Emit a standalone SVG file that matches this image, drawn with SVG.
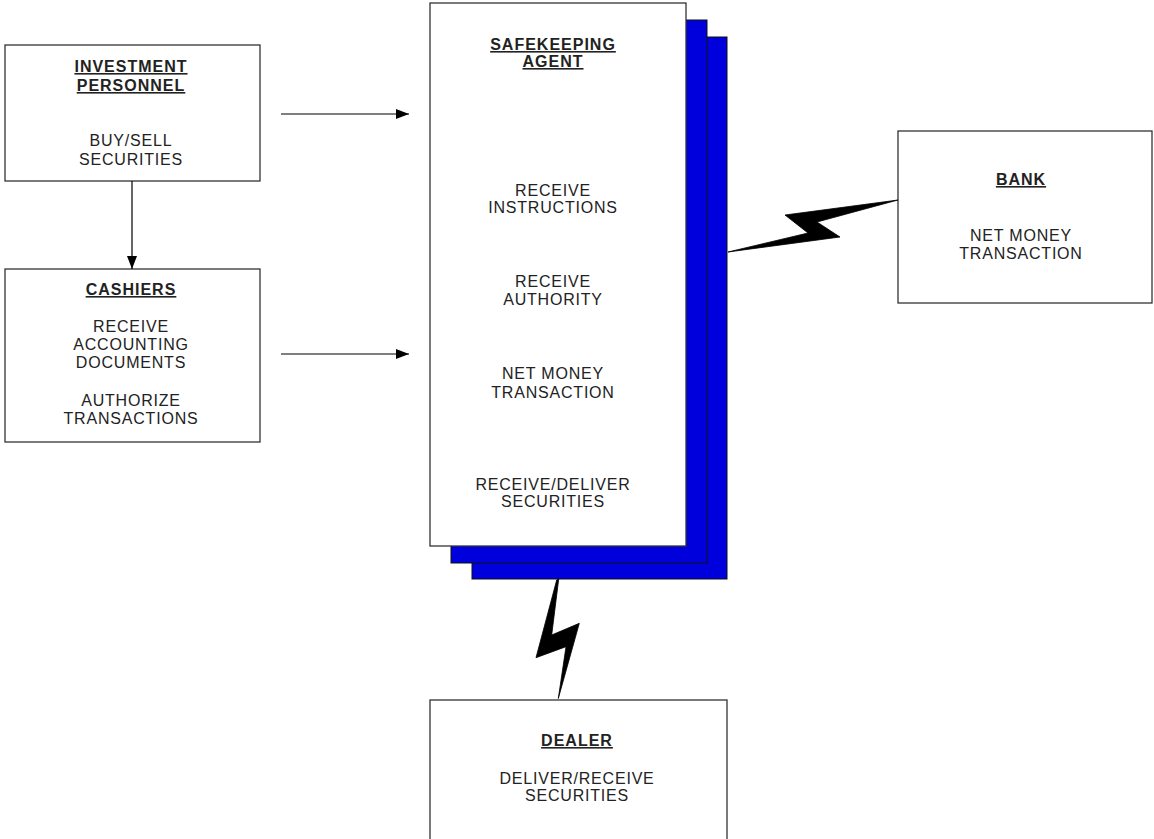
<svg xmlns="http://www.w3.org/2000/svg" width="1154" height="839" viewBox="0 0 1154 839">
<defs>
<style>
.box{fill:#fff;stroke:#333;stroke-width:1.3}
.shadow{fill:#0000dd;stroke:#111;stroke-width:1}
text{font-family:"Liberation Sans",Arial,sans-serif;font-size:16px;fill:#222;text-anchor:middle;letter-spacing:0.8px}
.h{font-weight:bold;text-decoration:underline;letter-spacing:1px}
.conn{stroke:#000;stroke-width:1.2;fill:none}
.bolt{fill:#000;stroke:#000;stroke-width:0.8}
</style>
<marker id="arr" markerWidth="14" markerHeight="10" refX="13" refY="5" orient="auto" markerUnits="userSpaceOnUse">
<path d="M0,0 L13,5 L0,10 Z" fill="#000"/>
</marker>
</defs>
<rect width="1154" height="839" fill="#fff"/>

<g id="investment-personnel">
<rect class="box" x="5" y="45" width="255" height="136"/>
<text class="h" x="131" y="72">INVESTMENT</text>
<text class="h" x="131" y="91">PERSONNEL</text>
<text x="131" y="146">BUY/SELL</text>
<text x="131" y="165">SECURITIES</text>
</g>

<g id="cashiers">
<rect class="box" x="5" y="269" width="255" height="173"/>
<text class="h" x="131" y="295">CASHIERS</text>
<text x="131" y="332">RECEIVE</text>
<text x="131" y="350">ACCOUNTING</text>
<text x="131" y="368">DOCUMENTS</text>
<text x="131" y="406">AUTHORIZE</text>
<text x="131" y="424">TRANSACTIONS</text>
</g>

<g id="safekeeping-agent">
<rect class="shadow" x="472" y="37" width="255" height="542"/>
<rect class="shadow" x="451" y="20" width="256" height="543"/>
<rect class="box" x="430" y="3" width="256" height="543"/>
<text class="h" x="553" y="50">SAFEKEEPING</text>
<text class="h" x="553" y="67">AGENT</text>
<text x="553" y="196">RECEIVE</text>
<text x="553" y="213">INSTRUCTIONS</text>
<text x="553" y="287">RECEIVE</text>
<text x="553" y="305">AUTHORITY</text>
<text x="553" y="379">NET MONEY</text>
<text x="553" y="398">TRANSACTION</text>
<text x="553" y="490">RECEIVE/DELIVER</text>
<text x="553" y="507">SECURITIES</text>
</g>

<g id="bank">
<rect class="box" x="898" y="131" width="254" height="172"/>
<text class="h" x="1021" y="185">BANK</text>
<text x="1021" y="241">NET MONEY</text>
<text x="1021" y="259">TRANSACTION</text>
</g>

<g id="dealer">
<rect class="box" x="430" y="700" width="297" height="140"/>
<text class="h" x="577" y="746">DEALER</text>
<text x="577" y="784">DELIVER/RECEIVE</text>
<text x="577" y="801">SECURITIES</text>
</g>

<g id="connectors">
<line class="conn" x1="132" y1="181" x2="132" y2="269" marker-end="url(#arr)"/>
<line class="conn" x1="281" y1="114" x2="409" y2="114" marker-end="url(#arr)"/>
<line class="conn" x1="281" y1="354" x2="409" y2="354" marker-end="url(#arr)"/>
<polygon class="bolt" points="728,252 840,237 817,222 898,200 785,215 808,233"/>
<polygon class="bolt" points="558.7,579 551.7,635 579.3,623.3 558.3,698.5 566,646.7 536,657.7 556.7,580"/>
</g>
</svg>
